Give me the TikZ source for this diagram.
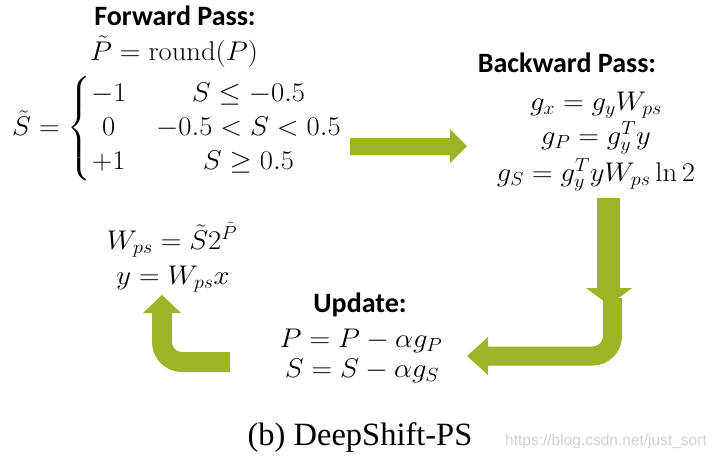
\RequirePackage{fix-cm}
\documentclass[tikz,border=0pt]{standalone}
\usepackage{amsmath}
\usepackage{fontspec}
\newfontfamily\lab{Carlito}
\newfontfamily\capfont{Liberation Serif}
\newfontfamily\wmfont{Liberation Sans}
\definecolor{arrowgreen}{RGB}{155,181,38}
\tikzset{
  lbl/.style={font=\lab\bfseries\fontsize{28}{34}\selectfont, anchor=base, inner sep=0pt},
  eq/.style={font=\fontsize{27}{34}\selectfont, anchor=base, inner sep=0pt, xscale=1.06, transform shape},
  blk/.style={fill=arrowgreen, draw=none},
  blkline/.style={draw=arrowgreen, line cap=butt, rounded corners=20pt},
}
\begin{document}
\begin{tikzpicture}[x=1pt,y=-1pt]
\useasboundingbox[fill=white] (0,0) rectangle (720,459);
% Forward pass
\node[lbl] (fwd) at (175,25) {Forward Pass:};
\node[eq] (pt) at (174,60) {$\tilde{P} = \mathrm{round}(P)$};
\node[eq, anchor=base west] (st) at (12,135) {$\displaystyle \tilde{S} = \left\{\begin{array}{@{}c@{\hspace{28pt}}c@{}} -1 & S \le -0.5\\ 0 & -0.5 < S < 0.5 \\ +1 & S \ge 0.5\end{array}\right.$};
% Backward pass
\node[lbl] (bwd) at (567,72) {Backward Pass:};
\node[eq] (gx) at (596,110) {$g_x = g_y W_{ps}$};
\node[eq] (gp) at (596,144) {$g_P = g_y^T y$};
\node[eq] (gs) at (596,181) {$g_S = g_y^T y W_{ps} \ln 2$};
% Left equations
\node[eq] (w) at (172,249) {$W_{ps} = \tilde{S}2^{\tilde{P}}$};
\node[eq] (y) at (173,284) {$y = W_{ps}x$};
% Update
\node[lbl] (upd) at (360,312) {Update:};
\node[eq] (pu) at (361,347) {$P = P - \alpha g_P$};
\node[eq] (su) at (362,377) {$S = S - \alpha g_S$};
% Caption and watermark
\node[font=\capfont\fontsize{32.5}{38}\selectfont, anchor=base, inner sep=0pt] (cap) at (360,445) {(b) DeepShift-PS};
\node[font=\wmfont\fontsize{15.5}{18}\selectfont, text=black!18, anchor=base west, inner sep=0pt] (wm) at (505,445) {https://blog.csdn.net/just\_sort};
% Right arrow
\fill[blk] (350,138) -- (450,138) -- (450,129) -- (467,146) -- (450,163) -- (450,155) -- (350,155) -- cycle;
% Bent arrow (down then left)
\draw[blkline, line width=19pt] (612.5,298) -- (612.5,356) -- (486,356);
\fill[blk] (488,337) -- (467,356) -- (488,375) -- cycle;
% Down arrow
\fill[blk] (597,198) -- (620,198) -- (620,288) -- (632,288) -- (609,305) -- (586,288) -- (597,288) -- cycle;
% Bent arrow (left then up)
\draw[blkline, line width=20pt] (230,362) -- (162,362) -- (162,312);
\fill[blk] (143,313) -- (162,295) -- (181,313) -- cycle;
\end{tikzpicture}
\end{document}
